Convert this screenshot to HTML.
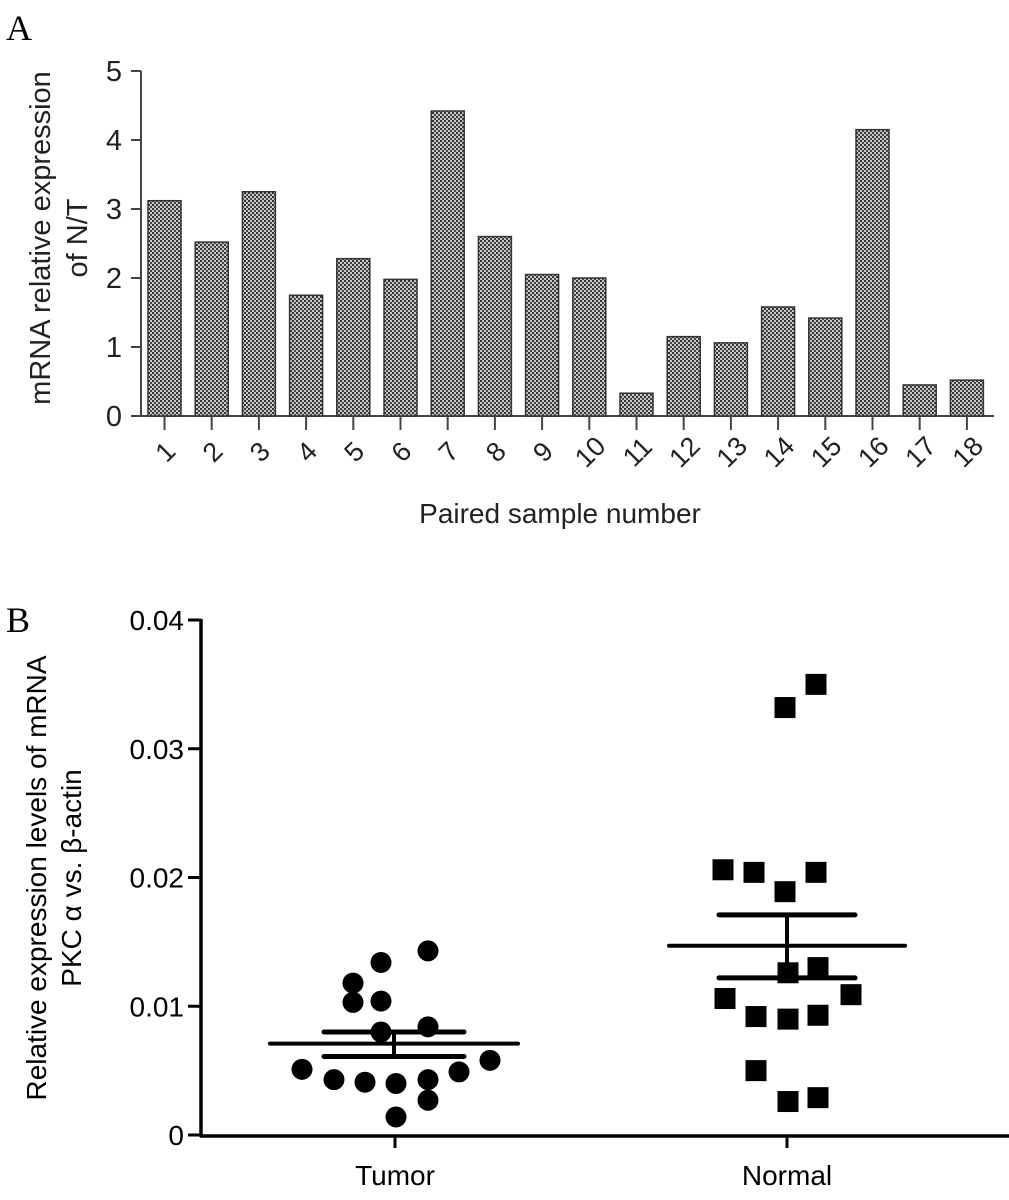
<!DOCTYPE html>
<html><head><meta charset="utf-8"><style>
body{margin:0;background:#fff}
svg{display:block;font-family:"Liberation Sans",sans-serif}
</style></head><body>
<svg id="fig" width="1009" height="1200" viewBox="0 0 1009 1200">
<defs>
<pattern id="dots" width="4" height="4" patternUnits="userSpaceOnUse">
<rect width="4" height="4" fill="#c8c8c8"/>
<rect x="0" y="0" width="2" height="2" fill="#333"/>
<rect x="2" y="2" width="2" height="2" fill="#444"/>
</pattern>
</defs>
<text x="6" y="40" font-family="Liberation Serif,serif" font-size="36">A</text>
<text x="6" y="632" font-family="Liberation Serif,serif" font-size="36">B</text>
<g id="ga"></g>
<g id="gb"></g>
</svg>
<script>
const barCategories=["1","2","3","4","5","6","7","8","9","10","11","12","13","14","15","16","17","18"];
const barValues=[3.12,2.52,3.25,1.75,2.28,1.98,4.42,2.6,2.05,2.0,0.33,1.15,1.06,1.58,1.42,4.15,0.45,0.52];
const barTicks=[0,1,2,3,4,5];
const tumorX=[428,381,353,353,381,381,428,302,334,365,396,428,428,459,490,396];
const tumorValues=[0.0143,0.0134,0.0118,0.0103,0.0104,0.0080,0.0084,0.0051,0.0043,0.0041,0.0040,0.0043,0.0027,0.0049,0.0058,0.0014];
const normalX=[785,816,723,754,785,816,788,818,725,851,756,788,818,756,788,818];
const normalValues=[0.0332,0.0350,0.0206,0.0204,0.0189,0.0204,0.0126,0.0130,0.0106,0.0109,0.0092,0.0090,0.0093,0.0050,0.0026,0.0029];
const groupNames=["Tumor","Normal"];
const groupMean=[0.0071,0.0147];
const groupSemLow=[0.0061,0.0122];
const groupSemHigh=[0.0080,0.0171];
const scatterTicks=[0,0.01,0.02,0.03,0.04];
const scatterTickLabels=["0","0.01","0.02","0.03","0.04"];

const NS="http://www.w3.org/2000/svg";
function mk(parent,tag,attrs,text){const e=document.createElementNS(NS,tag);for(const k in attrs)e.setAttribute(k,attrs[k]);if(text!==undefined)e.textContent=text;parent.appendChild(e);return e;}

// Panel A
const ga=document.getElementById('ga');
const ay=v=>416-v*69;
const ax=i=>164.5+i*47.2;
let e;
e=mk(ga,'line',{x1:141,y1:71,x2:141,y2:417,stroke:'#444','stroke-width':2});


e=mk(ga,'line',{x1:131,y1:416,x2:994,y2:416,stroke:'#444','stroke-width':2});


barTicks.forEach(t=>{
 mk(ga,'line',{x1:131,y1:ay(t),x2:141,y2:ay(t),stroke:'#444','stroke-width':2});
 e=mk(ga,'text',{x:122,y:ay(t)+10,'text-anchor':'end','font-size':29,fill:'#222'},String(t));
 
 
});
barValues.forEach((v,i)=>{
 e=mk(ga,'rect',{x:ax(i)-16.5,y:ay(v),width:33,height:416-ay(v),fill:'url(#dots)',stroke:'#333','stroke-width':1.5});
 
 
 mk(ga,'line',{x1:ax(i),y1:416,x2:ax(i),y2:430,stroke:'#444','stroke-width':2});
 const cx=ax(i)+1, cy=452;
 e=mk(ga,'text',{x:cx,y:cy+9,'text-anchor':'middle','font-size':27,fill:'#222',transform:`rotate(-45 ${cx} ${cy})`},barCategories[i]);
 
 
});
e=mk(ga,'text',{x:560,y:523,'text-anchor':'middle','font-size':28,fill:'#222'},'Paired sample number');


e=mk(ga,'text',{x:0,y:0,'text-anchor':'middle','font-size':29,fill:'#222',transform:'translate(50 238) rotate(-90)'},'mRNA relative expression');


e=mk(ga,'text',{x:0,y:0,'text-anchor':'middle','font-size':29,fill:'#222',transform:'translate(87 238) rotate(-90)'},'of N/T');



// Panel B
const gb=document.getElementById('gb');
const by=v=>1135-v*12875;
const gx=[395,787];
e=mk(gb,'line',{x1:201,y1:619,x2:201,y2:1137,stroke:'#000','stroke-width':3.5});


e=mk(gb,'line',{x1:200,y1:1136,x2:1009,y2:1136,stroke:'#000','stroke-width':3.5});


scatterTicks.forEach((t,i)=>{
 mk(gb,'line',{x1:188,y1:by(t),x2:201,y2:by(t),stroke:'#000','stroke-width':3});
 e=mk(gb,'text',{x:184,y:by(t)+10,'text-anchor':'end','font-size':28,fill:'#000'},scatterTickLabels[i]);
 
 
});
groupNames.forEach((g,i)=>{
 mk(gb,'line',{x1:gx[i],y1:1136,x2:gx[i],y2:1148,stroke:'#000','stroke-width':3});
 e=mk(gb,'text',{x:gx[i],y:1185,'text-anchor':'middle','font-size':28,fill:'#000'},g);
 
 
});
tumorValues.forEach((v,i)=>{
 e=mk(gb,'circle',{cx:tumorX[i],cy:by(v),r:10.5,fill:'#000'});
 
 
});
normalValues.forEach((v,i)=>{
 e=mk(gb,'rect',{x:normalX[i]-10.5,y:by(v)-10.5,width:21,height:21,fill:'#000'});
 
 
});
const meanHalf=[124,118], semHalf=[70,68];
groupNames.forEach((g,i)=>{
 const c=gx[i]-(i?0:1);
 e=mk(gb,'line',{x1:c-meanHalf[i],y1:by(groupMean[i]),x2:c+meanHalf[i],y2:by(groupMean[i]),stroke:'#000','stroke-width':4,'stroke-linecap':'round'});
 
 
 e=mk(gb,'line',{x1:c,y1:by(groupSemLow[i]),x2:c,y2:by(groupSemHigh[i]),stroke:'#000','stroke-width':4});
 
 
 [groupSemLow[i],groupSemHigh[i]].forEach(s=>{
  e=mk(gb,'line',{x1:c-semHalf[i],y1:by(s),x2:c+semHalf[i],y2:by(s),stroke:'#000','stroke-width':5,'stroke-linecap':'round'});
  
  
 });
});
e=mk(gb,'text',{x:0,y:0,'text-anchor':'middle','font-size':28,fill:'#000',transform:'translate(46 878) rotate(-90)'},'Relative expression levels of mRNA');


e=mk(gb,'text',{x:0,y:0,'text-anchor':'middle','font-size':28,fill:'#000',transform:'translate(81 878) rotate(-90)'},'PKC α vs. β-actin');


</script>
</body></html>
